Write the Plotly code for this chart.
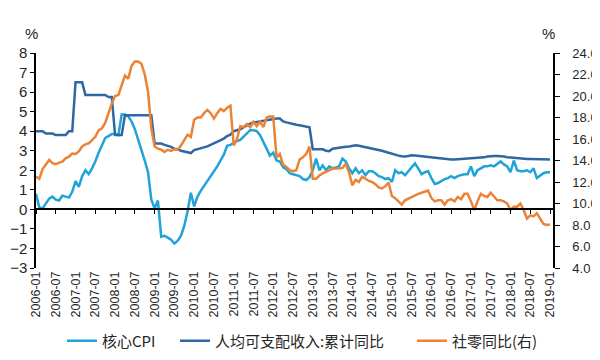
import plotly.graph_objects as go
import pandas as pd

months = pd.date_range("2006-01-01", "2019-01-01", freq="MS").strftime("%Y-%m").tolist()
tick_labels = months[::6]

core_cpi = [
    0.8, 0.1, 0.05, 0.3, 0.55, 0.65, 0.5, 0.45, 0.7, 0.65, 0.6, 0.9,
    1.45, 1.15, 1.7, 2.0, 1.8, 2.1, 2.45, 2.9, 3.3, 3.65, 3.75, 3.85,
    3.85, 3.8, 4.85, 4.85, 4.75, 4.5, 4.1, 3.6, 3.05, 2.5, 1.9, 0.5,
    0.05, 0.45, -1.4, -1.35, -1.45, -1.55, -1.75, -1.6, -1.35, -0.85, -0.1, 0.85,
    0.15, 0.65, 0.95, 1.2, 1.45, 1.65, 1.9, 2.2, 2.5, 2.8, 3.25, 3.3,
    3.4, 3.5, 3.55, 3.7, 3.85, 4.05, 4.05, 4.0, 3.8, 3.45, 3.05, 2.75,
    2.9, 2.5, 2.45, 2.15, 2.05, 1.85, 1.8, 1.75, 1.7, 1.55, 1.5, 1.65,
    2.0, 2.6, 2.0, 2.25, 2.0, 2.2, 2.1, 2.15, 2.2, 2.6, 2.45, 2.1,
    1.85, 2.1, 1.85, 2.0, 1.75, 1.95, 1.95, 1.85, 1.7, 1.65, 1.55, 1.6,
    1.4, 2.0, 1.85, 1.9, 1.75, 1.95, 2.15, 2.35, 2.1, 1.8, 1.9, 1.95,
    1.6, 1.3, 1.35, 1.45, 1.55, 1.6, 1.7, 1.6, 1.7, 1.75, 1.8, 1.8,
    2.2, 1.7, 2.0, 2.1, 2.2, 2.2, 2.25, 2.2, 2.35, 2.45, 2.3, 2.2,
    1.9, 2.5, 2.0, 1.95, 1.95, 2.0, 1.9, 2.1, 1.6, 1.75, 1.85, 1.9,
    1.9,
]

income = [
    4.0, 4.0, 4.0, 3.88, 3.88, 3.88, 3.8, 3.8, 3.8, 3.8, 4.0, 4.0,
    6.5, 6.5, 6.5, 5.85, 5.85, 5.85, 5.85, 5.85, 5.85, 5.85, 5.75, 5.75,
    3.8, 3.8, 3.8, 4.82, 4.82, 4.82, 4.85, 4.85, 4.85, 4.85, 4.82, 4.82,
    3.37, 3.37, 3.37, 3.3, 3.25, 3.2, 3.1, 3.08, 3.0, 2.95, 2.9, 2.88,
    3.03, 3.08, 3.1, 3.18, 3.22, 3.3, 3.38, 3.45, 3.52, 3.62, 3.75, 3.82,
    4.0, 4.05, 4.1, 4.2, 4.3, 4.38, 4.44, 4.47, 4.5, 4.53, 4.56, 4.6,
    4.65, 4.65, 4.65, 4.5, 4.45, 4.4, 4.35, 4.33, 4.3, 4.27, 4.25, 4.2,
    3.08, 3.07, 3.07, 3.07, 3.0, 2.98, 3.1, 3.13, 3.17, 3.18, 3.2, 3.22,
    3.25, 3.28, 3.25, 3.22, 3.18, 3.13, 3.1, 3.07, 3.03, 3.0, 2.95, 2.9,
    2.85, 2.78, 2.75, 2.72, 2.7, 2.73, 2.77, 2.75, 2.73, 2.73, 2.7, 2.68,
    2.66, 2.64, 2.62, 2.6, 2.6, 2.58, 2.55, 2.55, 2.56, 2.57, 2.57, 2.58,
    2.6, 2.6, 2.63, 2.65, 2.66, 2.7, 2.73, 2.73, 2.73, 2.73, 2.7, 2.67,
    2.65, 2.63, 2.62, 2.6, 2.6, 2.58, 2.58, 2.57, 2.57, 2.56, 2.55, 2.55,
    2.55,
]

retail = [
    12.5, 12.3, 13.2, 13.6, 14.05, 13.75, 13.65, 13.8, 13.9, 14.2, 14.35, 14.65,
    14.6, 14.85, 15.3, 15.5, 15.6, 15.9, 16.2, 16.8, 17.0, 17.5, 18.5, 19.3,
    20.0, 20.1, 21.0, 21.9, 21.6, 22.8, 23.2, 23.2, 23.0, 22.0, 20.4, 17.0,
    15.3, 15.1, 15.0, 14.8, 15.0, 14.9, 15.05, 15.0, 15.4, 15.9, 16.4, 16.2,
    17.8, 18.0, 18.0, 18.4, 18.7, 18.4, 17.9, 18.4, 18.8, 18.6, 18.9, 19.1,
    15.4, 16.0, 17.2, 17.1, 17.4, 17.1, 17.6, 17.2, 17.6, 17.1, 18.0, 18.1,
    18.1, 14.3, 14.6, 13.6, 13.4, 13.1, 13.0, 13.1, 14.1, 14.3, 14.6, 15.3,
    12.3, 12.3, 12.6, 12.8, 12.95, 13.1, 13.25, 13.25, 13.3, 13.3, 13.7, 12.9,
    11.7, 12.2, 12.0, 12.5, 12.3, 12.1, 12.0, 11.8, 11.5, 11.4, 11.6, 11.95,
    10.7, 10.5, 10.2, 9.9, 10.3, 10.45, 10.6, 10.8, 10.9, 11.0, 11.1, 11.2,
    10.5, 10.2, 10.3, 10.3, 9.9, 10.3, 10.4, 10.2, 10.6, 10.4, 10.9, 10.9,
    10.2, 9.4, 10.2, 10.9, 10.7, 10.6, 11.0, 10.6, 10.3, 10.3, 10.2, 10.0,
    9.4, 9.7, 9.7, 10.0, 9.4, 8.6, 8.9, 8.8, 9.1, 8.6, 8.1, 8.0,
    8.05,
]

left_ticks = list(range(-3, 9))
right_ticks = list(range(4, 25, 2))

C_CPI = "#1FA3D8"
C_INC = "#2F67A3"
C_RET = "#EB8337"
TXT = "#262626"
FONT = "Liberation Sans, Noto Sans CJK SC, sans-serif"

fig = go.Figure()
fig.add_trace(go.Scatter(x=months, y=core_cpi, name="核心CPI", mode="lines",
                         line=dict(color=C_CPI, width=2.5), legend="legend"))
fig.add_trace(go.Scatter(x=months, y=income, name="人均可支配收入:累计同比", mode="lines",
                         line=dict(color=C_INC, width=2.5), legend="legend2"))
fig.add_trace(go.Scatter(x=months, y=retail, name="社零同比(右)", mode="lines",
                         line=dict(color=C_RET, width=2.5), yaxis="y2", legend="legend3"))
# helper trace so the zero-level axis (ticks at y=0) is drawn
fig.add_trace(go.Scatter(x=months, y=income, mode="lines", xaxis="x2",
                         line=dict(color="rgba(0,0,0,0)", width=0),
                         showlegend=False, hoverinfo="skip"))

leg_font = dict(size=15, family="Noto Sans CJK SC, sans-serif", color=TXT)


def leg(x):
    return dict(orientation="h", xref="container", yref="container", x=x, xanchor="left",
                y=0.054, yanchor="middle", font=leg_font, bgcolor="rgba(0,0,0,0)")


xr = [0, 156.9]
fig.update_layout(
    width=592, height=352,
    margin=dict(l=28, r=47, t=45, b=92, autoexpand=False),
    paper_bgcolor="white", plot_bgcolor="white",
    font=dict(family=FONT, color=TXT, size=13),
    showlegend=True,
    legend=leg(0.0912),
    legend2=leg(0.282),
    legend3=leg(0.6824),
    xaxis=dict(type="category", range=xr, tickmode="array", tickvals=tick_labels,
               ticktext=tick_labels, tickangle=-90, ticks="", showline=False,
               showgrid=False, zeroline=False, automargin=False,
               tickfont=dict(size=12.5, color=TXT)),
    xaxis2=dict(type="category", overlaying="x", anchor="free", position=3/11,
                range=xr, tickmode="array", tickvals=tick_labels, showticklabels=False,
                ticks="outside", ticklen=4, tickwidth=1.2, tickcolor="black",
                showline=True, linecolor="black", linewidth=1.5, showgrid=False,
                zeroline=False, automargin=False),
    yaxis=dict(range=[-3, 8], tickmode="array", tickvals=left_ticks, showgrid=False,
               zeroline=False, showline=True, linecolor="black", linewidth=1.5,
               ticks="outside", ticklen=4, tickwidth=1.2, tickcolor="black",
               automargin=False, tickfont=dict(size=15, color=TXT)),
    yaxis2=dict(range=[4, 24], overlaying="y", side="right", tickmode="array",
                tickvals=right_ticks, tickformat=".1f", showgrid=False, zeroline=False,
                showline=True, linecolor="black", linewidth=1.5, ticks="outside",
                ticklen=5, tickwidth=1.2, tickcolor="black", ticklabelstandoff=10,
                automargin=False, tickfont=dict(size=13, color=TXT)),
    annotations=[
        dict(text="%", xref="paper", yref="paper", x=-0.008, y=1.093, showarrow=False,
             xanchor="center", yanchor="middle", font=dict(size=15, color=TXT)),
        dict(text="%", xref="paper", yref="paper", x=0.992, y=1.093, showarrow=False,
             xanchor="center", yanchor="middle", font=dict(size=15, color=TXT)),
    ],
)

fig.write_html("out.html")
